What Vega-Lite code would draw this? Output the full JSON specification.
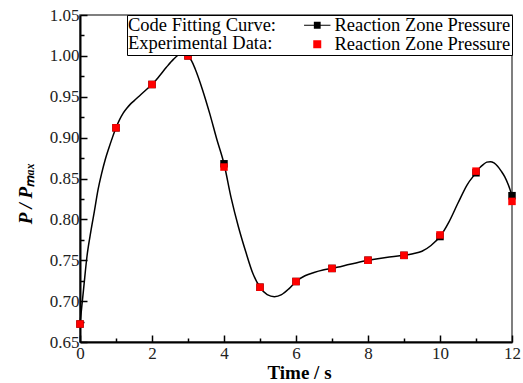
{
  "$schema": "https://vega.github.io/schema/vega-lite/v6.json",
  "width": 432,
  "height": 327,
  "autosize": "none",
  "padding": {"left": 80, "top": 15, "right": 11, "bottom": 41},
  "background": "white",
  "config": {
    "font": "Liberation Serif",
    "view": {"stroke": "#555", "strokeWidth": 1.5}
  },
  "datasets": {
    "curve": [
      {"t": 0, "p": 0.672}, {"t": 0.1, "p": 0.715}, {"t": 0.2, "p": 0.757}, {"t": 0.3, "p": 0.785},
      {"t": 0.4, "p": 0.81}, {"t": 0.5, "p": 0.836}, {"t": 0.6, "p": 0.856}, {"t": 0.7, "p": 0.873},
      {"t": 0.8, "p": 0.887}, {"t": 0.9, "p": 0.9}, {"t": 1.0, "p": 0.912}, {"t": 1.1, "p": 0.922},
      {"t": 1.2, "p": 0.93}, {"t": 1.3, "p": 0.936}, {"t": 1.4, "p": 0.941}, {"t": 1.5, "p": 0.945},
      {"t": 1.6, "p": 0.949}, {"t": 1.7, "p": 0.953}, {"t": 1.8, "p": 0.957}, {"t": 1.9, "p": 0.961},
      {"t": 2.0, "p": 0.965}, {"t": 2.2, "p": 0.975}, {"t": 2.4, "p": 0.986}, {"t": 2.6, "p": 0.996},
      {"t": 2.8, "p": 1.003}, {"t": 2.9, "p": 1.004}, {"t": 3.0, "p": 1.0}, {"t": 3.1, "p": 0.994},
      {"t": 3.2, "p": 0.984}, {"t": 3.4, "p": 0.959}, {"t": 3.6, "p": 0.93}, {"t": 3.8, "p": 0.898},
      {"t": 4.0, "p": 0.868}, {"t": 4.2, "p": 0.826}, {"t": 4.4, "p": 0.791}, {"t": 4.6, "p": 0.761},
      {"t": 4.8, "p": 0.734}, {"t": 5.0, "p": 0.717}, {"t": 5.2, "p": 0.708}, {"t": 5.4, "p": 0.7055},
      {"t": 5.6, "p": 0.708}, {"t": 5.8, "p": 0.715}, {"t": 6.0, "p": 0.724}, {"t": 6.25, "p": 0.731},
      {"t": 6.5, "p": 0.735}, {"t": 6.75, "p": 0.738}, {"t": 7.0, "p": 0.74}, {"t": 7.5, "p": 0.745},
      {"t": 8.0, "p": 0.75}, {"t": 8.5, "p": 0.7535}, {"t": 9.0, "p": 0.756}, {"t": 9.25, "p": 0.758},
      {"t": 9.5, "p": 0.761}, {"t": 9.75, "p": 0.768}, {"t": 10.0, "p": 0.779}, {"t": 10.25, "p": 0.797},
      {"t": 10.5, "p": 0.82}, {"t": 10.75, "p": 0.842}, {"t": 11.0, "p": 0.857}, {"t": 11.1, "p": 0.863},
      {"t": 11.2, "p": 0.867}, {"t": 11.3, "p": 0.87}, {"t": 11.4, "p": 0.8706}, {"t": 11.5, "p": 0.869},
      {"t": 11.6, "p": 0.865}, {"t": 11.7, "p": 0.859}, {"t": 11.8, "p": 0.852}, {"t": 11.9, "p": 0.842},
      {"t": 12.0, "p": 0.829}
    ],
    "points": [
      {"t": 0, "p": 0.672, "series": "Code Fitting Curve:"},
      {"t": 1, "p": 0.912, "series": "Code Fitting Curve:"},
      {"t": 2, "p": 0.965, "series": "Code Fitting Curve:"},
      {"t": 3, "p": 1.0, "series": "Code Fitting Curve:"},
      {"t": 4, "p": 0.868, "series": "Code Fitting Curve:"},
      {"t": 5, "p": 0.717, "series": "Code Fitting Curve:"},
      {"t": 6, "p": 0.724, "series": "Code Fitting Curve:"},
      {"t": 7, "p": 0.74, "series": "Code Fitting Curve:"},
      {"t": 8, "p": 0.75, "series": "Code Fitting Curve:"},
      {"t": 9, "p": 0.756, "series": "Code Fitting Curve:"},
      {"t": 10, "p": 0.779, "series": "Code Fitting Curve:"},
      {"t": 11, "p": 0.857, "series": "Code Fitting Curve:"},
      {"t": 12, "p": 0.829, "series": "Code Fitting Curve:"},
      {"t": 0, "p": 0.672, "series": "Experimental Data:"},
      {"t": 1, "p": 0.912, "series": "Experimental Data:"},
      {"t": 2, "p": 0.965, "series": "Experimental Data:"},
      {"t": 3, "p": 1.0, "series": "Experimental Data:"},
      {"t": 4, "p": 0.864, "series": "Experimental Data:"},
      {"t": 5, "p": 0.717, "series": "Experimental Data:"},
      {"t": 6, "p": 0.724, "series": "Experimental Data:"},
      {"t": 7, "p": 0.74, "series": "Experimental Data:"},
      {"t": 8, "p": 0.75, "series": "Experimental Data:"},
      {"t": 9, "p": 0.756, "series": "Experimental Data:"},
      {"t": 10, "p": 0.781, "series": "Experimental Data:"},
      {"t": 11, "p": 0.859, "series": "Experimental Data:"},
      {"t": 12, "p": 0.822, "series": "Experimental Data:"}
    ]
  },
  "encoding": {
    "x": {
      "field": "t",
      "type": "quantitative",
      "scale": {"domain": [0, 12], "nice": false, "zero": false},
      "axis": {
        "title": "Time / s",
        "values": [0, 1, 2, 3, 4, 5, 6, 7, 8, 9, 10, 11, 12],
        "labelExpr": "datum.value % 2 == 0 ? datum.label : ''",
        "tickSize": {"condition": {"test": "datum.value % 2 == 1", "value": -4}, "value": -7},
        "tickColor": "black",
        "tickWidth": 1.5,
        "domainColor": "black",
        "domainWidth": 2,
        "grid": false,
        "labelFontSize": 17,
        "labelColor": "#222",
        "labelPadding": 10,
        "labelFlush": false,
        "labelOverlap": false,
        "titleFontSize": 19,
        "titleFontWeight": "bold",
        "titleColor": "black",
        "titleX": 219,
        "titleY": 36,
        "titleAlign": "center",
        "titleBaseline": "alphabetic"
      }
    },
    "y": {
      "field": "p",
      "type": "quantitative",
      "scale": {"domain": [0.65, 1.05], "nice": false, "zero": false},
      "axis": {
        "title": "P / Pₘₐₓ",
        "values": [0.65, 0.675, 0.7, 0.725, 0.75, 0.775, 0.8, 0.825, 0.85, 0.875, 0.9, 0.925, 0.95, 0.975, 1.0, 1.025, 1.05],
        "labelExpr": "round(datum.value * 1000) % 50 == 0 ? format(datum.value, '.2f') : ''",
        "tickSize": {"condition": {"test": "round(datum.value * 1000) % 50 != 0", "value": -4}, "value": -7},
        "tickColor": "black",
        "tickWidth": 1.5,
        "domainColor": "black",
        "domainWidth": 2,
        "grid": false,
        "labelFontSize": 17,
        "labelColor": "#222",
        "labelPadding": 8,
        "labelOverlap": false,
        "labelFlush": false,
        "titleFontSize": 19,
        "titleFontWeight": "bold",
        "titleFontStyle": "italic",
        "titleColor": "black",
        "titleAngle": -90,
        "titleX": -55,
        "titleY": 178,
        "titleAlign": "center",
        "titleBaseline": "middle"
      }
    }
  },
  "layer": [
    {
      "data": {"name": "curve"},
      "mark": {"type": "line", "color": "black", "strokeWidth": 1.5, "interpolate": "monotone"}
    },
    {
      "data": {"name": "points"},
      "transform": [{"filter": "datum.series === 'Code Fitting Curve:'"}],
      "mark": {"type": "point", "shape": "square", "filled": true, "opacity": 1, "size": 56, "color": "black"}
    },
    {
      "data": {"name": "points"},
      "transform": [{"filter": "datum.series === 'Experimental Data:'"}],
      "mark": {"type": "point", "shape": "square", "filled": true, "opacity": 1, "size": 56, "color": "red"}
    },
    {
      "data": {"name": "points"},
      "transform": [{"filter": "datum.t < 0"}],
      "mark": {"type": "point", "filled": true, "opacity": 1, "size": 64},
      "encoding": {
        "color": {
          "field": "series",
          "type": "nominal",
          "scale": {"domain": ["Code Fitting Curve:", "Experimental Data:"], "range": ["black", "red"]},
          "legend": {
            "title": ["\u00a0Code Fitting Curve:", "\u00a0Experimental Data:"],
            "orient": "top-right",
            "offset": 0,
            "direction": "vertical",
            "titleOrient": "left",
            "titleAnchor": "start",
            "titleBaseline": "top",
            "titleFontSize": 18.5,
            "titleFontWeight": "normal",
            "titleColor": "black",
            "titleLineHeight": 18,
            "titlePadding": 32,
            "titleLimit": 400,
            "labelExpr": "'Reaction Zone Pressure\u00a0\u00a0\u00a0\u00a0\u00a0\u00a0'",
            "labelFontSize": 18.5,
            "labelColor": "black",
            "labelOffset": 8,
            "labelLimit": 400,
            "padding": 1,
            "rowPadding": -0.5,
            "strokeColor": "black",
            "fillColor": "white",
            "symbolSize": 64,
            "symbolOpacity": 1,
            "symbolStrokeWidth": 0
          }
        },
        "shape": {
          "field": "series",
          "type": "nominal",
          "scale": {
            "domain": ["Code Fitting Curve:", "Experimental Data:"],
            "range": ["M-3.3,-0.14H3.3V0.14H-3.3Z M-0.85,-0.85H0.85V0.85H-0.85Z", "square"]
          },
          "legend": {"title": ["\u00a0Code Fitting Curve:", "\u00a0Experimental Data:"]}
        }
      }
    }
  ]
}
